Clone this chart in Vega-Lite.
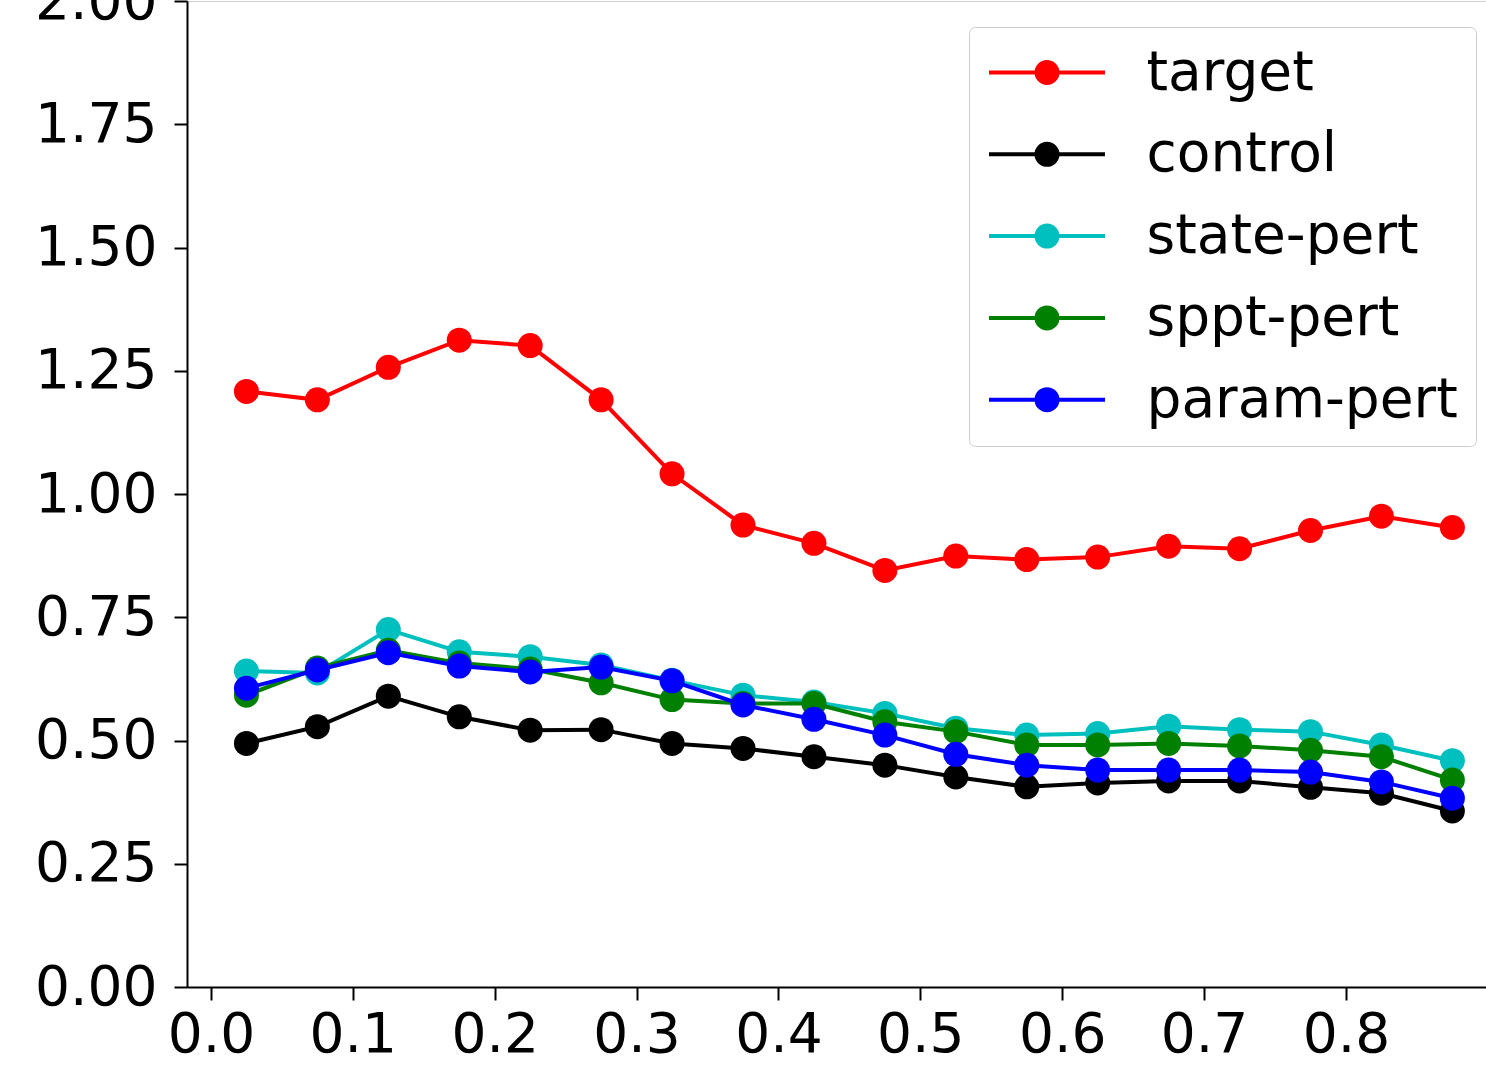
{
  "$schema": "https://vega.github.io/schema/vega-lite/v6.json",
  "width": 1299,
  "height": 986,
  "autosize": {"type": "none"},
  "padding": {"left": 187, "top": 1, "right": 0, "bottom": 83},
  "background": "white",
  "config": {
    "view": {"stroke": "#d0d0d0", "strokeWidth": 1},
    "font": "DejaVu Sans"
  },
  "data": {
    "values": [
      {"x": 0.025, "series": "target", "y": 1.208},
      {"x": 0.075, "series": "target", "y": 1.191},
      {"x": 0.125, "series": "target", "y": 1.257},
      {"x": 0.175, "series": "target", "y": 1.312},
      {"x": 0.225, "series": "target", "y": 1.301},
      {"x": 0.275, "series": "target", "y": 1.191},
      {"x": 0.325, "series": "target", "y": 1.041},
      {"x": 0.375, "series": "target", "y": 0.937},
      {"x": 0.425, "series": "target", "y": 0.9},
      {"x": 0.475, "series": "target", "y": 0.845},
      {"x": 0.525, "series": "target", "y": 0.874},
      {"x": 0.575, "series": "target", "y": 0.867},
      {"x": 0.625, "series": "target", "y": 0.872},
      {"x": 0.675, "series": "target", "y": 0.894},
      {"x": 0.725, "series": "target", "y": 0.889},
      {"x": 0.775, "series": "target", "y": 0.926},
      {"x": 0.825, "series": "target", "y": 0.955},
      {"x": 0.875, "series": "target", "y": 0.932},
      {"x": 0.025, "series": "control", "y": 0.494},
      {"x": 0.075, "series": "control", "y": 0.528},
      {"x": 0.125, "series": "control", "y": 0.59},
      {"x": 0.175, "series": "control", "y": 0.548},
      {"x": 0.225, "series": "control", "y": 0.521},
      {"x": 0.275, "series": "control", "y": 0.522},
      {"x": 0.325, "series": "control", "y": 0.494},
      {"x": 0.375, "series": "control", "y": 0.484},
      {"x": 0.425, "series": "control", "y": 0.467},
      {"x": 0.475, "series": "control", "y": 0.45},
      {"x": 0.525, "series": "control", "y": 0.426},
      {"x": 0.575, "series": "control", "y": 0.406},
      {"x": 0.625, "series": "control", "y": 0.414},
      {"x": 0.675, "series": "control", "y": 0.418},
      {"x": 0.725, "series": "control", "y": 0.418},
      {"x": 0.775, "series": "control", "y": 0.405},
      {"x": 0.825, "series": "control", "y": 0.393},
      {"x": 0.875, "series": "control", "y": 0.357},
      {"x": 0.025, "series": "state-pert", "y": 0.641},
      {"x": 0.075, "series": "state-pert", "y": 0.637},
      {"x": 0.125, "series": "state-pert", "y": 0.725},
      {"x": 0.175, "series": "state-pert", "y": 0.68},
      {"x": 0.225, "series": "state-pert", "y": 0.67},
      {"x": 0.275, "series": "state-pert", "y": 0.653},
      {"x": 0.325, "series": "state-pert", "y": 0.622},
      {"x": 0.375, "series": "state-pert", "y": 0.592},
      {"x": 0.425, "series": "state-pert", "y": 0.578},
      {"x": 0.475, "series": "state-pert", "y": 0.555},
      {"x": 0.525, "series": "state-pert", "y": 0.525},
      {"x": 0.575, "series": "state-pert", "y": 0.511},
      {"x": 0.625, "series": "state-pert", "y": 0.514},
      {"x": 0.675, "series": "state-pert", "y": 0.529},
      {"x": 0.725, "series": "state-pert", "y": 0.522},
      {"x": 0.775, "series": "state-pert", "y": 0.518},
      {"x": 0.825, "series": "state-pert", "y": 0.491},
      {"x": 0.875, "series": "state-pert", "y": 0.459},
      {"x": 0.025, "series": "sppt-pert", "y": 0.592},
      {"x": 0.075, "series": "sppt-pert", "y": 0.647},
      {"x": 0.125, "series": "sppt-pert", "y": 0.683},
      {"x": 0.175, "series": "sppt-pert", "y": 0.657},
      {"x": 0.225, "series": "sppt-pert", "y": 0.645},
      {"x": 0.275, "series": "sppt-pert", "y": 0.617},
      {"x": 0.325, "series": "sppt-pert", "y": 0.583},
      {"x": 0.375, "series": "sppt-pert", "y": 0.575},
      {"x": 0.425, "series": "sppt-pert", "y": 0.575},
      {"x": 0.475, "series": "sppt-pert", "y": 0.538},
      {"x": 0.525, "series": "sppt-pert", "y": 0.518},
      {"x": 0.575, "series": "sppt-pert", "y": 0.491},
      {"x": 0.625, "series": "sppt-pert", "y": 0.491},
      {"x": 0.675, "series": "sppt-pert", "y": 0.494},
      {"x": 0.725, "series": "sppt-pert", "y": 0.489},
      {"x": 0.775, "series": "sppt-pert", "y": 0.48},
      {"x": 0.825, "series": "sppt-pert", "y": 0.467},
      {"x": 0.875, "series": "sppt-pert", "y": 0.42},
      {"x": 0.025, "series": "param-pert", "y": 0.606},
      {"x": 0.075, "series": "param-pert", "y": 0.643},
      {"x": 0.125, "series": "param-pert", "y": 0.678},
      {"x": 0.175, "series": "param-pert", "y": 0.651},
      {"x": 0.225, "series": "param-pert", "y": 0.639},
      {"x": 0.275, "series": "param-pert", "y": 0.649},
      {"x": 0.325, "series": "param-pert", "y": 0.621},
      {"x": 0.375, "series": "param-pert", "y": 0.572},
      {"x": 0.425, "series": "param-pert", "y": 0.543},
      {"x": 0.475, "series": "param-pert", "y": 0.511},
      {"x": 0.525, "series": "param-pert", "y": 0.472},
      {"x": 0.575, "series": "param-pert", "y": 0.45},
      {"x": 0.625, "series": "param-pert", "y": 0.44},
      {"x": 0.675, "series": "param-pert", "y": 0.44},
      {"x": 0.725, "series": "param-pert", "y": 0.44},
      {"x": 0.775, "series": "param-pert", "y": 0.436},
      {"x": 0.825, "series": "param-pert", "y": 0.416},
      {"x": 0.875, "series": "param-pert", "y": 0.383}
    ]
  },
  "encoding": {
    "x": {
      "field": "x", "type": "quantitative",
      "scale": {"domain": [-0.0169, 0.8987], "nice": false, "zero": false},
      "axis": {
        "values": [0, 0.1, 0.2, 0.3, 0.4, 0.5, 0.6, 0.7, 0.8],
        "format": ".1f", "title": null, "grid": false,
        "domainColor": "#000000", "domainWidth": 2,
        "tickColor": "#000000", "tickWidth": 2, "tickSize": 13,
        "labelFontSize": 55, "labelColor": "#000000", "labelPadding": 8,
        "labelFont": "DejaVu Sans", "labelFlush": false, "labelOverlap": false
      }
    },
    "y": {
      "field": "y", "type": "quantitative",
      "scale": {"domain": [0, 2], "nice": false},
      "axis": {
        "values": [0, 0.25, 0.5, 0.75, 1, 1.25, 1.5, 1.75, 2],
        "format": ".2f", "title": null, "grid": false,
        "domainColor": "#000000", "domainWidth": 2,
        "tickColor": "#000000", "tickWidth": 2, "tickSize": 13,
        "labelFontSize": 55, "labelColor": "#000000", "labelPadding": 17,
        "labelFont": "DejaVu Sans", "labelFlush": false, "labelOverlap": false
      }
    },
    "color": {
      "field": "series", "type": "nominal",
      "scale": {
        "domain": ["target", "control", "state-pert", "sppt-pert", "param-pert"],
        "range": ["#ff0000", "#000000", "#00bfbf", "#008000", "#0000ff"]
      },
      "legend": {
        "title": null,
        "orient": "none",
        "legendX": 782,
        "legendY": 26,
        "padding": 18,
        "fillColor": "rgba(255,255,255,0.8)",
        "strokeColor": "#cccccc",
        "cornerRadius": 6,
        "symbolType": "M-3.867,0L3.867,0M0.7,0C0.7,0.3866,0.3866,0.7,0,0.7C-0.3866,0.7,-0.7,0.3866,-0.7,0C-0.7,-0.3866,-0.3866,-0.7,0,-0.7C0.3866,-0.7,0.7,-0.3866,0.7,0Z",
        "symbolSize": 900,
        "symbolStrokeWidth": 4,
        "symbolOffset": 32.5,
        "symbolOpacity": 1,
        "labelOffset": 72,
        "labelFontSize": 55,
        "labelFont": "DejaVu Sans",
        "labelColor": "#000000",
        "rowPadding": 25.8,
        "labelLimit": 0,
        "encode": {
          "symbols": {
            "update": {
              "fill": {"scale": "color", "field": "value"},
              "stroke": {"scale": "color", "field": "value"},
              "strokeWidth": {"value": 4},
              "opacity": {"value": 1}
            }
          }
        }
      }
    }
  },
  "layer": [
    {
      "transform": [{"filter": "datum.series === 'target'"}],
      "layer": [
        {"mark": {"type": "line", "strokeWidth": 4}},
        {"mark": {"type": "point", "filled": true, "size": 625, "opacity": 1}}
      ]
    },
    {
      "transform": [{"filter": "datum.series === 'control'"}],
      "layer": [
        {"mark": {"type": "line", "strokeWidth": 4}},
        {"mark": {"type": "point", "filled": true, "size": 625, "opacity": 1}}
      ]
    },
    {
      "transform": [{"filter": "datum.series === 'state-pert'"}],
      "layer": [
        {"mark": {"type": "line", "strokeWidth": 4}},
        {"mark": {"type": "point", "filled": true, "size": 625, "opacity": 1}}
      ]
    },
    {
      "transform": [{"filter": "datum.series === 'sppt-pert'"}],
      "layer": [
        {"mark": {"type": "line", "strokeWidth": 4}},
        {"mark": {"type": "point", "filled": true, "size": 625, "opacity": 1}}
      ]
    },
    {
      "transform": [{"filter": "datum.series === 'param-pert'"}],
      "layer": [
        {"mark": {"type": "line", "strokeWidth": 4}},
        {"mark": {"type": "point", "filled": true, "size": 625, "opacity": 1}}
      ]
    }
  ]
}
